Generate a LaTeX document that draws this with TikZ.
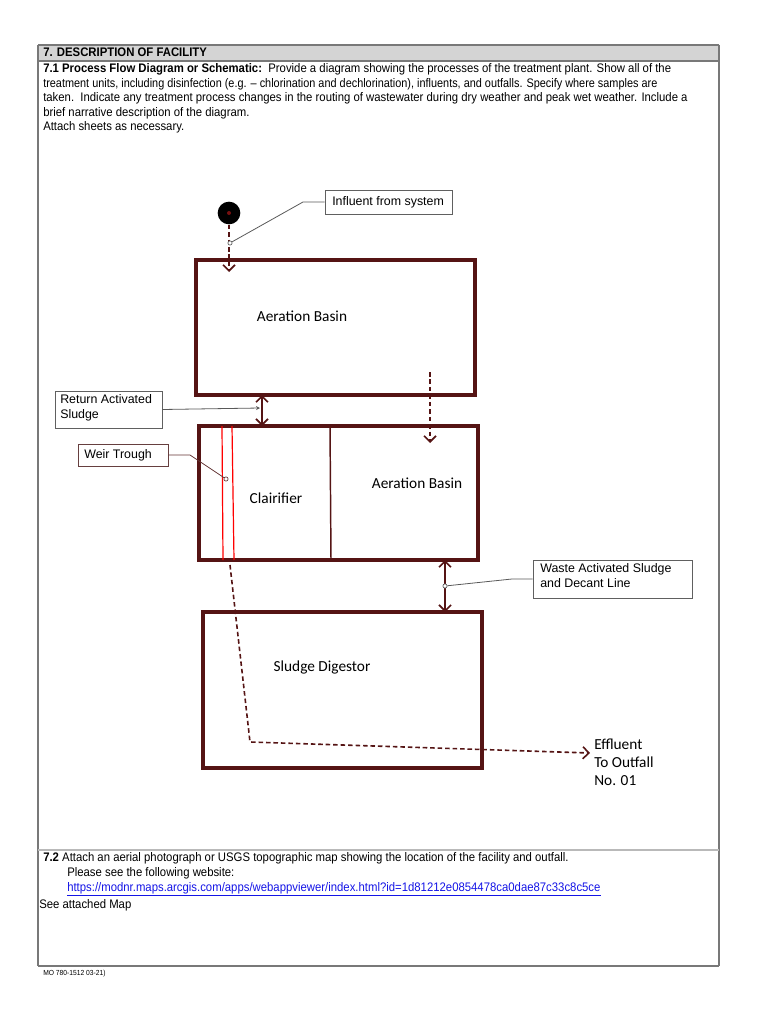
\documentclass[tikz,border=0pt]{standalone}
\usepackage{fontspec}
\usepackage{graphicx}
\setmainfont{Liberation Sans}
\newfontfamily\formfont[FakeStretch=0.915]{Liberation Sans}
\newfontfamily\calfont{Carlito}
\usetikzlibrary{arrows.meta,fit}
\definecolor{dred}{RGB}{85,20,20}
\definecolor{hdrgrey}{RGB}{212,212,212}
\definecolor{frame}{RGB}{120,120,120}
\definecolor{linkblue}{RGB}{20,20,230}
\begin{document}
\begin{tikzpicture}[x=0.75pt,y=-0.75pt,
  basin/.style={draw=dred, line width=2.7pt, inner sep=0pt},
  callbox/.style={draw=gray!75!black, line width=0.6pt, inner sep=0pt},
  lbl/.style={font=\calfont\fontsize{11.5}{13.5}\selectfont, inner sep=0pt},
  ctext/.style={font=\fontsize{9.3}{11.25}\selectfont, inner sep=0pt, anchor=north west, align=left},
  ftext/.style={font=\formfont\fontsize{9.3}{11}\selectfont, inner sep=0pt, anchor=base west},
  flow/.style={draw=dred, line width=1.2pt, dash pattern=on 3.4pt off 2.2pt, -{Straight Barb[length=4.5pt,width=9pt,line width=1.2pt]}},
  dbl/.style={draw=dred, line width=1.2pt, {Straight Barb[length=4.5pt,width=9pt,line width=1.2pt]}-{Straight Barb[length=4.5pt,width=9pt,line width=1.2pt]}},
  pointer/.style={draw=gray!70!black, line width=0.6pt},
  pin/.style={circle, draw=gray!70!black, fill=white, line width=0.5pt, inner sep=0pt, minimum size=3.2pt},
]
\useasboundingbox (0,0) rectangle (770,1024);
% ---------- form frame ----------
\fill[hdrgrey] (38,45) rectangle (719,61);
\draw[frame, line width=0.8pt] (38,45) -- (719,45);
\draw[frame, line width=0.8pt] (38,61) -- (719,61);
\draw[frame, line width=0.8pt] (38,45) -- (38,966);
\draw[frame, line width=1.6pt] (719,45) -- (719,966);
\draw[frame, line width=0.8pt] (38,966) -- (719,966);
\draw[gray!55, line width=1.4pt] (38,850) -- (719,850);
% ---------- header texts ----------
\node[ftext, font=\formfont\bfseries\fontsize{9.3}{11}\selectfont] (h7) at (43,57) {7. DESCRIPTION OF FACILITY};
\node[ftext] (p1) at (43,73) {\textbf{7.1 Process Flow Diagram or Schematic:}\ \ Provide a diagram showing the processes of the treatment plant. Show all of the};
\node[ftext] (p2) at (43,88) {\scalebox{0.96}[1]{treatment units, including disinfection (e.g. – chlorination and dechlorination), influents, and outfalls. Specify where samples are}};
\node[ftext] (p3) at (43,102) {taken.\ \ Indicate any treatment process changes in the routing of wastewater during dry weather and peak wet weather. Include a};
\node[ftext] (p4) at (43,116) {brief narrative description of the diagram.};
\node[ftext] (p5) at (43,130) {Attach sheets as necessary.};
% ---------- section 7.2 ----------
\node[ftext] (q1) at (43,861) {\textbf{7.2} Attach an aerial photograph or USGS topographic map showing the location of the facility and outfall.};
\node[ftext] (q2) at (67,876) {Please see the following website:};
\node[ftext, text=linkblue] (q3) at (67,891) {\underline{https://modnr.maps.arcgis.com/apps/webappviewer/index.html?id=1d81212e0854478ca0dae87c33c8c5ce}};
\node[ftext] (q4) at (39,908) {See attached Map};
\node[ftext, font=\formfont\fontsize{5.5}{6}\selectfont] (mo) at (43,975) {MO 780-1512 03-21)};
% ---------- process units ----------
\node[basin, fit={(196,260) (475,395)}] (ab1) {};
\node[lbl] (ab1l) at (302,316) {Aeration Basin};
\node[basin, fit={(199,426) (478,560)}] (cab) {};
\node[lbl] (cll) at (276,498) {Clairifier};
\node[lbl] (ab2l) at (417,483) {Aeration Basin};
\node[basin, fit={(203,612) (482,768)}] (sd) {};
\node[lbl] (sdl) at (322,667) {Sludge Digestor};
% divider and weir trough
\coordinate (divt) at (330,426); \coordinate (divb) at (331,560);
\draw[dred, line width=1.1pt] (divt) -- (divb);
\coordinate (w1t) at (222,426); \coordinate (w1b) at (223,560);
\coordinate (w2t) at (232,426); \coordinate (w2b) at (234,560);
\draw[red, line width=0.9pt] (w1t) -- (w1b);
\draw[red, line width=0.9pt] (w2t) -- (w2b);
% influent source
\node[circle, fill=black, minimum size=17pt, inner sep=0pt] (src) at (229,213) {};
\node[circle, fill=dred!80!red, minimum size=3pt, inner sep=0pt] (srcdot) at (229,213) {};
\coordinate (inend) at (229,272);
\draw[flow] (src.south) -- (inend);
% flow between basins
\coordinate (ra1) at (262,395); \coordinate (ra2) at (262,426);
\draw[dbl] (ra1) -- (ra2);
\coordinate (fa1) at (430,372); \coordinate (fa2) at (430,443);
\draw[flow] (fa1) -- (fa2);
\coordinate (wa1) at (445,560); \coordinate (wa2) at (445,612);
\draw[dbl] (wa1) -- (wa2);
% effluent
\coordinate (ef1) at (230,565); \coordinate (ef2) at (250,742); \coordinate (ef3) at (590,753);
\draw[flow] (ef1) -- (ef2) -- (ef3);
\node[lbl, anchor=north west, align=left] (eff) at (594,739) {Effluent\\To Outfall\\No. 01};
% ---------- callouts ----------
\node[callbox, fit={(325,190) (452,214)}] (infb) {};
\node[ctext, anchor=west] (inft) at (332,202) {Influent from system};
\node[pin] (infp) at (230,243) {};
\coordinate (infk) at (303,202);
\draw[pointer] (infb.west) -- (infk) -- (infp);

\node[callbox, fit={(55,391) (162,428)}] (rasb) {};
\node[ctext] (rast) at (60,394) {Return Activated\\Sludge};
\coordinate (rasp) at (260,408);
\draw[pointer, -{Stealth[length=3pt,width=3pt]}] (rasb.east) -- (rasp);

\node[callbox, draw=dred!60!gray, fit={(78,444) (168,466)}] (weirb) {};
\node[ctext, anchor=west] (weirt) at (84,455) {Weir Trough};
\node[pin, draw=dred!70!gray] (weirp) at (226,479) {};
\coordinate (weirk) at (190,455);
\draw[pointer, draw=dred!70!gray] (weirb.east) -- (weirk) -- (weirp);

\node[callbox, fit={(533,560) (692,598)}] (wasb) {};
\node[ctext] (wast) at (540,563) {Waste Activated Sludge\\and Decant Line};
\node[pin] (wasp) at (445,586) {};
\coordinate (wask) at (512,579);
\draw[pointer] (wasp) -- (wask) -- (wasb.west |- wask);
\end{tikzpicture}
\end{document}
